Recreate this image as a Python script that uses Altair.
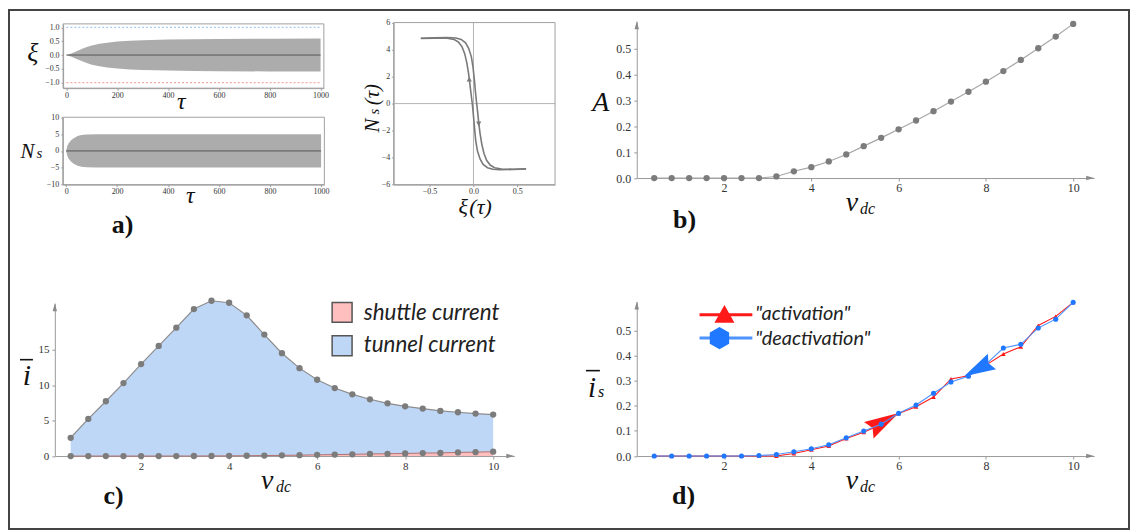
import altair as alt
import pandas as pd

W, H = 1127, 524
OX, OY = 8, 8


def px(v):
    return v - OX


def py(v):
    return v - OY


# ---------------- data ----------------
# a) time traces: envelope of the fast oscillation
tau_env = [0, 20, 40, 60, 80, 100, 130, 160, 200, 250, 300, 400, 500, 600, 800, 1000]
xi_env = [0, 0.06, 0.14, 0.22, 0.29, 0.35, 0.41, 0.45, 0.49, 0.52, 0.54, 0.56, 0.575, 0.585, 0.595, 0.6]
tau_ns = [0, 5, 10, 20, 30, 45, 60, 80, 120, 200, 1000]
ns_env = [0, 1.5, 2.3, 3.2, 3.8, 4.4, 4.7, 4.85, 4.92, 4.95, 4.95]
tau_span = [0, 1000]
xi_limits = [1.0, -1.0]
tau_ticks = [0, 200, 400, 600, 800, 1000]
xi_ticks = [-1.0, -0.5, 0.0, 0.5, 1.0]
ns_ticks = [-10, -5, 0, 5, 10]

# a) hysteresis loop
hyst_up_xi = [-0.6, -0.45, -0.3, -0.22, -0.17, -0.13, -0.1, -0.075, -0.055, -0.04, -0.025, -0.012,
              0.0, 0.012, 0.025, 0.045, 0.075, 0.11, 0.16, 0.22, 0.3, 0.45, 0.6]
hyst_up_ns = [4.82, 4.85, 4.85, 4.75, 4.55, 4.2, 3.7, 3.0, 2.2, 1.4, 0.6, -0.1,
              -0.9, -1.8, -2.7, -3.5, -4.1, -4.5, -4.75, -4.86, -4.9, -4.88, -4.84]
hyst_dn_xi = [-0.6, -0.45, -0.3, -0.2, -0.14, -0.09, -0.055, -0.025, -0.005, 0.01, 0.022, 0.035,
              0.047, 0.06, 0.075, 0.095, 0.12, 0.15, 0.19, 0.24, 0.32, 0.45, 0.6]
hyst_dn_ns = [4.84, 4.88, 4.9, 4.86, 4.75, 4.5, 4.1, 3.5, 2.7, 1.8, 0.9, 0.1,
              -0.6, -1.4, -2.2, -3.0, -3.7, -4.2, -4.55, -4.75, -4.85, -4.86, -4.82]
hyst_arrow_xi = [-0.048, 0.06]
hyst_arrow_ns = [1.8, -1.5]
hyst_xticks = [-0.5, 0.0, 0.5]
hyst_yticks = [-6, -4, -2, 0, 2, 4, 6]

# b), c), d)
vdc = [0.4, 0.8, 1.2, 1.6, 2.0, 2.4, 2.8, 3.2, 3.6, 4.0, 4.4, 4.8, 5.2, 5.6, 6.0, 6.4,
       6.8, 7.2, 7.6, 8.0, 8.4, 8.8, 9.2, 9.6, 10.0]
amp = [0, 0, 0, 0, 0, 0, 0, 0.006, 0.026, 0.042, 0.064, 0.091, 0.123, 0.155, 0.188, 0.222,
       0.258, 0.295, 0.333, 0.372, 0.413, 0.456, 0.501, 0.546, 0.595]
i_total = [2.58, 5.25, 7.74, 10.31, 12.99, 15.56, 18.14, 20.77, 21.94, 21.66, 19.88, 17.16,
           14.53, 12.42, 10.78, 9.61, 8.72, 8.02, 7.45, 7.03, 6.70, 6.38, 6.19, 6.0, 5.86]
i_shuttle = [0, 0, 0, 0, 0, 0, 0.001, 0.003, 0.013, 0.027, 0.043, 0.071, 0.098, 0.126, 0.17,
             0.2, 0.243, 0.3, 0.319, 0.364, 0.418, 0.44, 0.515, 0.55, 0.612]
is_act = [0, 0, 0, 0, 0, 0, 0, 0.0, 0.01, 0.025, 0.04, 0.07, 0.095, 0.126, 0.169, 0.196,
          0.235, 0.307, 0.32, 0.362, 0.406, 0.435, 0.52, 0.556, 0.612]
is_deact = [0, 0, 0, 0, 0, 0, 0.002, 0.006, 0.017, 0.029, 0.045, 0.073, 0.1, 0.127, 0.17, 0.203,
            0.25, 0.295, 0.318, 0.365, 0.43, 0.445, 0.51, 0.545, 0.612]
vdc_ticks = [2, 4, 6, 8, 10]
frac_ticks = [0.0, 0.1, 0.2, 0.3, 0.4, 0.5]
i_ticks = [0, 5, 10, 15]
zeros = [0] * len(vdc)

legend_c = ["shuttle current", "tunnel current"]
legend_d = ['"activation"', '"deactivation"']
panel_tags = ["a)", "b)", "c)", "d)"]

# ---------------- styles ----------------
SERIF = "Liberation Serif"
SANS = "Lato"
GRAY_AX = "#9a9a9a"
BLUE_FILL = "#bfd7f6"
PINK_FILL = "#ffbfbf"
RED = "#ff1a1a"
BLUE = "#1f78ff"
DOT = "#7c7c7c"

AXC = dict(grid=False, title=None, domainColor=GRAY_AX, tickColor=GRAY_AX,
           labelColor="#333333", labelFont=SERIF, labelFlush=False, labelOverlap=False)


def xaxis(y_page, values, fmt, size, tick=3, pad=1):
    return alt.Axis(orient="bottom", offset=py(y_page) - H, values=values, format=fmt,
                    labelFontSize=size, tickSize=tick, labelPadding=pad, **AXC)


def yaxis(x_page, values, fmt, size, tick=3, pad=2):
    return alt.Axis(orient="left", offset=-px(x_page), values=values, format=fmt,
                    labelFontSize=size, tickSize=tick, labelPadding=pad, **AXC)


class Panel:
    def __init__(self, xdom, xr, ydom, yr, xax, yax):
        self.xdom, self.ydom = xdom, ydom
        self.xs = alt.Scale(domain=xdom, range=[px(xr[0]), px(xr[1])], nice=False, zero=False)
        self.ys = alt.Scale(domain=ydom, range=[py(yr[0]), py(yr[1])], nice=False, zero=False)
        self.xax, self.yax = xax, yax

    def x(self, f):
        return alt.X(f, type="quantitative", scale=self.xs, axis=self.xax)

    def y(self, f):
        return alt.Y(f, type="quantitative", scale=self.ys, axis=self.yax)

    def frame(self):
        df = pd.DataFrame({"x0": [self.xdom[0]], "x1": [self.xdom[1]],
                           "y0": [self.ydom[0]], "y1": [self.ydom[1]]})
        return alt.Chart(df).mark_rect(filled=False, stroke="#a0a0a0", strokeWidth=1).encode(
            x=self.x("x0"), x2="x1", y=self.y("y0"), y2="y1")


ARROW_R = "M-1,-0.55L1,0L-1,0.55Z"
ARROW_U = "M-0.55,1L0,-1L0.55,1Z"
BIG_ARROW = "M1,0L-1,-0.55L-0.75,0L-1,0.55Z"
HEXAGON = "M0,-1L0.87,-0.5L0.87,0.5L0,1L-0.87,0.5L-0.87,-0.5Z"
TRI = "M0,-0.9L1,0.9L-1,0.9Z"

layers = []

# ---------------- panel a, top (xi) ----------------
PA1 = Panel([-13, 1013], [63.3, 325], [-1.2, 1.13], [87.5, 23],
            xaxis(87.5, tau_ticks, "d", 8, tick=2, pad=1),
            yaxis(63.3, xi_ticks, ".1f", 8, tick=2, pad=2))
df_a1 = pd.DataFrame({"tau": tau_env, "hi": xi_env, "lo": [-v for v in xi_env]})
df_span = pd.DataFrame({"t0": [tau_span[0]], "t1": [tau_span[1]], "z": [0],
                        "up": [xi_limits[0]], "dn": [xi_limits[1]]})
a1 = alt.layer(
    alt.Chart(df_a1).mark_area(color="#acacac").encode(x=PA1.x("tau"), y=PA1.y("hi"), y2="lo"),
    alt.Chart(df_span).mark_rule(color="#a8c8f4", strokeDash=[2, 2], strokeWidth=1.2).encode(
        x=PA1.x("t0"), x2="t1", y=PA1.y("up")),
    alt.Chart(df_span).mark_rule(color="#f4a8a8", strokeDash=[2, 2], strokeWidth=1.2).encode(
        x=PA1.x("t0"), x2="t1", y=PA1.y("dn")),
    alt.Chart(df_span).mark_rule(color="#555555", strokeWidth=1).encode(
        x=PA1.x("t0"), x2="t1", y=PA1.y("z")),
    PA1.frame(),
)
layers.append(a1)

# ---------------- panel a, bottom (Ns) ----------------
PA2 = Panel([-13, 1013], [63, 325.5], [-10, 10], [184.3, 116.7],
            xaxis(184.3, tau_ticks, "d", 8, tick=2, pad=1),
            yaxis(63, ns_ticks, "d", 8, tick=2, pad=2))
df_a2 = pd.DataFrame({"tau": tau_ns, "hi": ns_env, "lo": [-v for v in ns_env]})
a2 = alt.layer(
    alt.Chart(df_a2).mark_area(color="#acacac").encode(x=PA2.x("tau"), y=PA2.y("hi"), y2="lo"),
    alt.Chart(df_span).mark_rule(color="#555555", strokeWidth=1).encode(
        x=PA2.x("t0"), x2="t1", y=PA2.y("z")),
    PA2.frame(),
)
layers.append(a2)

# ---------------- panel a, hysteresis ----------------
PH = Panel([-0.91, 0.93], [395, 557], [-6, 6], [184.3, 21.7],
           xaxis(184.3, hyst_xticks, ".1f", 8, tick=2, pad=1),
           yaxis(395, hyst_yticks, "d", 8, tick=2, pad=2))
df_h = pd.concat([
    pd.DataFrame({"xi": hyst_up_xi, "ns": hyst_up_ns, "br": "up"}),
    pd.DataFrame({"xi": hyst_dn_xi, "ns": hyst_dn_ns, "br": "down"}),
])
df_hax = pd.DataFrame({"x0": [PH.xdom[0]], "x1": [PH.xdom[1]], "y0": [PH.ydom[0]],
                       "y1": [PH.ydom[1]], "z": [0]})
df_harr = pd.DataFrame({"xi": hyst_arrow_xi, "ns": hyst_arrow_ns, "dir": ["up", "down"]})
hy = alt.layer(
    alt.Chart(df_hax).mark_rule(color="#b4b4b4", strokeWidth=1).encode(
        x=PH.x("x0"), x2="x1", y=PH.y("z")),
    alt.Chart(df_hax).mark_rule(color="#b4b4b4", strokeWidth=1).encode(
        x=PH.x("z"), y=PH.y("y0"), y2="y1"),
    alt.Chart(df_h).mark_line(color="#7a7a7a", strokeWidth=1.6).encode(
        x=PH.x("xi"), y=PH.y("ns"), detail="br:N"),
    alt.Chart(df_harr[df_harr["dir"] == "up"]).mark_point(
        shape="triangle-up", filled=True, color="#7a7a7a", size=28, opacity=1).encode(
        x=PH.x("xi"), y=PH.y("ns")),
    alt.Chart(df_harr[df_harr["dir"] == "down"]).mark_point(
        shape="triangle-down", filled=True, color="#7a7a7a", size=28, opacity=1).encode(
        x=PH.x("xi"), y=PH.y("ns")),
    PH.frame(),
)
layers.append(hy)


def axis_arrows(P, xend, yend, x0, dx_units, dy_units):
    dfx = pd.DataFrame({"x": [xend - dx_units], "y": [0]})
    dfy = pd.DataFrame({"x": [x0], "y": [yend - dy_units]})
    return [
        alt.Chart(dfx).mark_point(shape=ARROW_R, filled=True, color="#8a8a8a", size=64, opacity=1)
        .encode(x=P.x("x"), y=P.y("y")),
        alt.Chart(dfy).mark_point(shape=ARROW_U, filled=True, color="#8a8a8a", size=64, opacity=1)
        .encode(x=P.x("x"), y=P.y("y")),
    ]


# ---------------- panel b ----------------
PB = Panel([0, 10.48], [639, 1098], [0, 0.605], [177.7, 20.4],
           xaxis(177.7, vdc_ticks, "d", 12, tick=3, pad=2),
           yaxis(639, frac_ticks, ".1f", 12, tick=3, pad=3))
df_b = pd.DataFrame({"v": vdc, "a": amp})
pb = alt.layer(
    alt.Chart(df_b).mark_line(color="#a6a6a6", strokeWidth=1.2).encode(x=PB.x("v"), y=PB.y("a")),
    alt.Chart(df_b).mark_circle(color=DOT, size=40, opacity=1).encode(x=PB.x("v"), y=PB.y("a")),
    *axis_arrows(PB, 10.48, 0.605, 0, 4 / 43.8, 4 / 260),
)
layers.append(pb)

# ---------------- panel c ----------------
PC = Panel([0.04, 10.48], [55, 516.1], [0, 21.6], [456.7, 303.3],
           xaxis(456.7, vdc_ticks, "d", 11, tick=3, pad=2),
           yaxis(55, i_ticks, "d", 11, tick=3, pad=3))
df_c = pd.DataFrame({"v": vdc, "tot": i_total, "sh": i_shuttle, "base": zeros})
pc = alt.layer(
    alt.Chart(df_c).mark_area(color=BLUE_FILL, opacity=1).encode(x=PC.x("v"), y=PC.y("tot"), y2="base"),
    alt.Chart(df_c).mark_area(color=PINK_FILL, opacity=1).encode(x=PC.x("v"), y=PC.y("sh"), y2="base"),
    alt.Chart(df_c).mark_line(color="#8c8c8c", strokeWidth=1.2).encode(x=PC.x("v"), y=PC.y("tot")),
    alt.Chart(df_c).mark_line(color="#b07070", strokeWidth=1.0).encode(x=PC.x("v"), y=PC.y("sh")),
    alt.Chart(df_c).mark_circle(color=DOT, size=40, opacity=1).encode(x=PC.x("v"), y=PC.y("tot")),
    alt.Chart(df_c).mark_circle(color=DOT, size=40, opacity=1).encode(x=PC.x("v"), y=PC.y("sh")),
    *axis_arrows(PC, 10.48, 21.6, 0.04, 4 / 44.17, 4 / 7.1),
)
layers.append(pc)

# ---------------- panel d ----------------
PD = Panel([0, 10.48], [639, 1098], [0, 0.615], [456.7, 301.7],
           xaxis(456.7, vdc_ticks, "d", 12, tick=3, pad=2),
           yaxis(639, frac_ticks, ".1f", 12, tick=3, pad=3))
df_d = pd.DataFrame({"v": vdc, "act": is_act, "deact": is_deact})
df_red_arrow = pd.DataFrame({"v": [5.66], "y": [0.137]})
df_blue_arrow = pd.DataFrame({"v": [7.82], "y": [0.347]})
pdl = alt.layer(
    alt.Chart(df_d).mark_line(color=RED, strokeWidth=1.1).encode(x=PD.x("v"), y=PD.y("act")),
    alt.Chart(df_d).mark_point(shape="triangle-up", filled=True, color=RED, size=22, opacity=1)
    .encode(x=PD.x("v"), y=PD.y("act")),
    alt.Chart(df_red_arrow).mark_point(shape=BIG_ARROW, filled=True, color=RED, size=1200,
                                       angle=330, opacity=1).encode(x=PD.x("v"), y=PD.y("y")),
    alt.Chart(df_d).mark_line(color="#4d94ff", strokeWidth=1.1).encode(x=PD.x("v"), y=PD.y("deact")),
    alt.Chart(df_d).mark_circle(color=BLUE, size=26, opacity=1).encode(x=PD.x("v"), y=PD.y("deact")),
    alt.Chart(df_blue_arrow).mark_point(shape=BIG_ARROW, filled=True, color=BLUE, size=1000,
                                        angle=152, opacity=1).encode(x=PD.x("v"), y=PD.y("y")),
    *axis_arrows(PD, 10.48, 0.615, 0, 4 / 43.8, 4 / 252),
)
layers.append(pdl)


# ---------------- texts, legends, border ----------------
def txt(s, x, y, size, style="italic", weight="normal", font=SERIF, align="center", angle=0,
        color="#111111", baseline="alphabetic"):
    kw = dict(text=s, font=font, fontSize=size, fontStyle=style, fontWeight=weight,
              align=align, baseline=baseline, color=color)
    if angle:
        kw["angle"] = angle
    return alt.Chart().mark_text(**kw).encode(x=alt.value(px(x)), y=alt.value(py(y)))


def bar(x0, x1, y, w=1.6):
    return alt.Chart().mark_rule(color="#111111", strokeWidth=w).encode(
        x=alt.value(px(x0)), x2=alt.value(px(x1)), y=alt.value(py(y)))


texts = [
    txt("ξ", 33, 60, 26),
    txt("τ", 182, 108, 24),
    txt("N", 27.5, 158, 21),
    txt("s", 39.5, 158, 15),
    txt("τ", 191, 203, 24),
    txt("ξ", 460, 214, 22, align="left"),
    txt("(τ)", 471, 214, 22, align="left"),
    txt("N", 380, 125, 21, angle=270),
    txt("s", 380, 111, 15, angle=270),
    txt("(τ)", 380, 94, 21, angle=270),
    txt("A", 603, 110, 28),
    txt("v", 855, 211, 28),
    txt("dc", 863, 214, 16, align="left"),
    txt("i", 27, 385, 30),
    bar(20, 33, 360),
    txt("v", 268, 490, 28),
    txt("dc", 277, 493, 16, align="left"),
    txt("i", 594, 397, 29),
    bar(588, 602, 371),
    txt("s", 600, 397, 16, align="left"),
    txt("v", 855, 490, 28),
    txt("dc", 863, 493, 16, align="left"),
    txt(panel_tags[0], 123, 233, 26, style="normal", weight="bold"),
    txt(panel_tags[1], 687, 228, 26, style="normal", weight="bold"),
    txt(panel_tags[2], 114, 505, 26, style="normal", weight="bold"),
    txt(panel_tags[3], 686, 505, 26, style="normal", weight="bold"),
    # legend c
    alt.Chart().mark_point(shape="square", filled=True, fill=PINK_FILL, stroke="#555555",
                           strokeWidth=1.5, size=400, opacity=1).encode(
        x=alt.value(px(343.3)), y=alt.value(py(312.5))),
    alt.Chart().mark_point(shape="square", filled=True, fill=BLUE_FILL, stroke="#555555",
                           strokeWidth=1.5, size=400, opacity=1).encode(
        x=alt.value(px(343.3)), y=alt.value(py(346))),
    txt(legend_c[0], 365, 320, 22.5, font=SANS, align="left", color="#222222"),
    txt(legend_c[1], 365, 352.5, 22.5, font=SANS, align="left", color="#222222"),
    # legend d
    alt.Chart().mark_rule(color=RED, strokeWidth=3).encode(
        x=alt.value(px(702)), x2=alt.value(px(755)), y=alt.value(py(315))),
    alt.Chart().mark_point(shape=TRI, filled=True, color=RED, size=400, opacity=1).encode(
        x=alt.value(px(727)), y=alt.value(py(314))),
    alt.Chart().mark_rule(color="#4d94ff", strokeWidth=3).encode(
        x=alt.value(px(702)), x2=alt.value(px(755)), y=alt.value(py(338.3))),
    alt.Chart().mark_point(shape=HEXAGON, filled=True, color=BLUE, size=500, opacity=1).encode(
        x=alt.value(px(722)), y=alt.value(py(338.3))),
    txt(legend_d[0], 758, 320, 20, font=SANS, align="left", color="#222222"),
    txt(legend_d[1], 758, 345.5, 20, font=SANS, align="left", color="#222222"),
    # border
    alt.Chart().mark_rect(filled=False, stroke="#444444", strokeWidth=2).encode(
        x=alt.value(1), x2=alt.value(W - 2), y=alt.value(1), y2=alt.value(H - 2)),
]
layers.extend(texts)

chart = alt.layer(*layers).resolve_scale(x="independent", y="independent").resolve_axis(
    x="independent", y="independent").properties(
    width=W, height=H, padding=0, background="white",
    autosize=alt.AutoSizeParams(type="none")).configure_view(strokeWidth=0)

chart.save("out.html", embed_options={"renderer": "svg", "actions": False})
